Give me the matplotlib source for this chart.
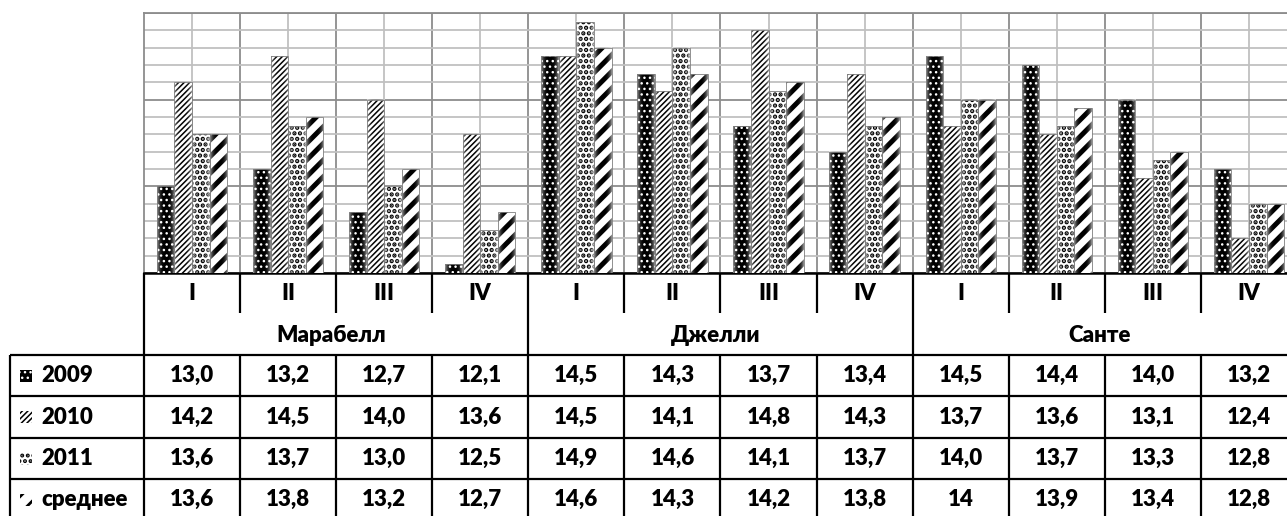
import numpy as np
import matplotlib
matplotlib.use("Agg")
import matplotlib.pyplot as plt
from matplotlib.patches import Rectangle

# quarterly values per city (Марабелл, Джелли, Санте)
quarters = ["I", "II", "III", "IV"]
cities = ["Марабелл", "Джелли", "Санте"]
series_names = ["2009", "2010", "2011", "среднее"]
values_2009 = [13.0, 13.2, 12.7, 12.1, 14.5, 14.3, 13.7, 13.4, 14.5, 14.4, 14.0, 13.2]
values_2010 = [14.2, 14.5, 14.0, 13.6, 14.5, 14.1, 14.8, 14.3, 13.7, 13.6, 13.1, 12.4]
values_2011 = [13.6, 13.7, 13.0, 12.5, 14.9, 14.6, 14.1, 13.7, 14.0, 13.7, 13.3, 12.8]
values_avg = [13.6, 13.8, 13.2, 12.7, 14.6, 14.3, 14.2, 13.8, 14.0, 13.9, 13.4, 12.8]
series = [values_2009, values_2010, values_2011, values_avg]

# fill / hatch colour / hatch / hatch line width for each series
styles = [
    ("black", "white", "...", 1.0),
    ("white", "black", "//////", 1.1),
    ("white", "black", "...", 2.2),
    ("white", "black", "//", 3.6),
]

plt.rcParams["font.family"] = ["Lato", "Noto Sans", "DejaVu Sans"]

W, H = 1287, 516
AX_BOTTOM = 273  # pixel row of the category axis
fig = plt.figure(figsize=(W / 100, H / 100), dpi=100)
ax = fig.add_axes([144 / W, (H - AX_BOTTOM) / H, 1153 / W, 260 / H])

n = len(values_2009)
x = np.arange(n)
bar_w = 0.183
ymin, ymax = 12, 15

# soft highlight towards the bar edges
t = np.linspace(-1, 1, 64)
shade = np.ones((1, 64, 4))
shade[..., 3] = 0.6 * np.abs(t) ** 3

all_bars = []
for i, (vals, (fc, hc, hatch, hlw)) in enumerate(zip(series, styles)):
    with plt.rc_context({"hatch.linewidth": hlw}):
        bars = ax.bar(x + (i - 1.5) * bar_w, vals, width=bar_w, facecolor=fc,
                      edgecolor=hc, hatch=hatch, linewidth=0, zorder=3)
    for p in bars:
        if hasattr(p, "set_hatch_linewidth"):
            p.set_hatch_linewidth(hlw)
        all_bars.append(p)

for p in all_bars:
    x0, w, top = p.get_x(), p.get_width(), p.get_height()
    ax.imshow(shade, extent=(x0, x0 + w, ymin, top), aspect="auto",
              interpolation="bilinear", zorder=4)
    ax.add_patch(Rectangle((x0, ymin), w, top - ymin, fill=False,
                           edgecolor="#7f7f7f", linewidth=0.6, zorder=5))

ax.set_xlim(-0.5, n - 0.5)
ax.set_ylim(ymin, ymax)
ax.set_xticks(np.arange(0.5, n - 1, 1))
ax.set_xticks(x, minor=True)
ax.set_yticks(np.arange(ymin, ymax + 0.01, 1))
ax.set_yticks(np.arange(ymin, ymax + 0.01, 0.2), minor=True)
ax.tick_params(which="both", length=0, labelbottom=False, labelleft=False)
ax.grid(which="major", color="#8c8c8c", linewidth=1.3)
ax.grid(which="minor", color="#c0c0c0", linewidth=1.3)
ax.set_axisbelow(True)
for side in ("top", "left"):
    ax.spines[side].set_color("#8c8c8c")
    ax.spines[side].set_linewidth(1.3)
ax.spines["right"].set_visible(False)
ax.spines["bottom"].set_color("black")
ax.spines["bottom"].set_linewidth(1.8)

# data table underneath, y in pixel rows from the top of the figure
tab = fig.add_axes([144 / W, 0, 1153 / W, (H - AX_BOTTOM) / H])
tab.set_xlim(-0.5, n - 0.5)
tab.set_ylim(H, AX_BOTTOM)
tab.axis("off")

px = 1153 / n  # pixels per category
label_left = -0.5 - 134 / px
row_lines = [355, 396, 438, 479]
row_mid = [375.5, 417, 458.5, 499.5]
line_kw = dict(color="black", linewidth=1.6, clip_on=False)

tab.hlines(row_lines, label_left, n - 0.5, **line_kw)
bounds = np.arange(0.5, n - 1, 1)
city_bounds = [b for b in bounds if (b + 0.5) % 4 == 0]
quarter_bounds = [b for b in bounds if (b + 0.5) % 4 != 0]
tab.vlines([-0.5] + city_bounds, AX_BOTTOM, H, **line_kw)
tab.vlines(quarter_bounds, AX_BOTTOM, 313, **line_kw)
tab.vlines(quarter_bounds + [label_left], 355, H, **line_kw)

txt_kw = dict(fontsize=16, fontweight="heavy", va="center", clip_on=False)
for i in range(n):
    tab.text(i, 293, quarters[i % 4], ha="center", **txt_kw)
for c, city in enumerate(cities):
    tab.text(4 * c + 1.45, 335, city, ha="center", **txt_kw)

for r, (name, vals, (fc, hc, hatch, hlw)) in enumerate(zip(series_names, series, styles)):
    y = row_mid[r]
    with plt.rc_context({"hatch.linewidth": min(hlw, 2.0)}):
        key = Rectangle((label_left + 10 / px, y - 6), 12 / px, 12, facecolor=fc,
                        edgecolor=hc, hatch=hatch, linewidth=0, clip_on=False)
    if hasattr(key, "set_hatch_linewidth"):
        key.set_hatch_linewidth(min(hlw, 2.0))
    tab.add_patch(key)
    tab.text(label_left + 31 / px, y, name, ha="left", **txt_kw)
    for i, v in enumerate(vals):
        label = f"{v:g}" if name == "среднее" else f"{v:.1f}"
        tab.text(i, y, label.replace(".", ","), ha="center", **txt_kw)

fig.savefig("out.png", dpi=100)
